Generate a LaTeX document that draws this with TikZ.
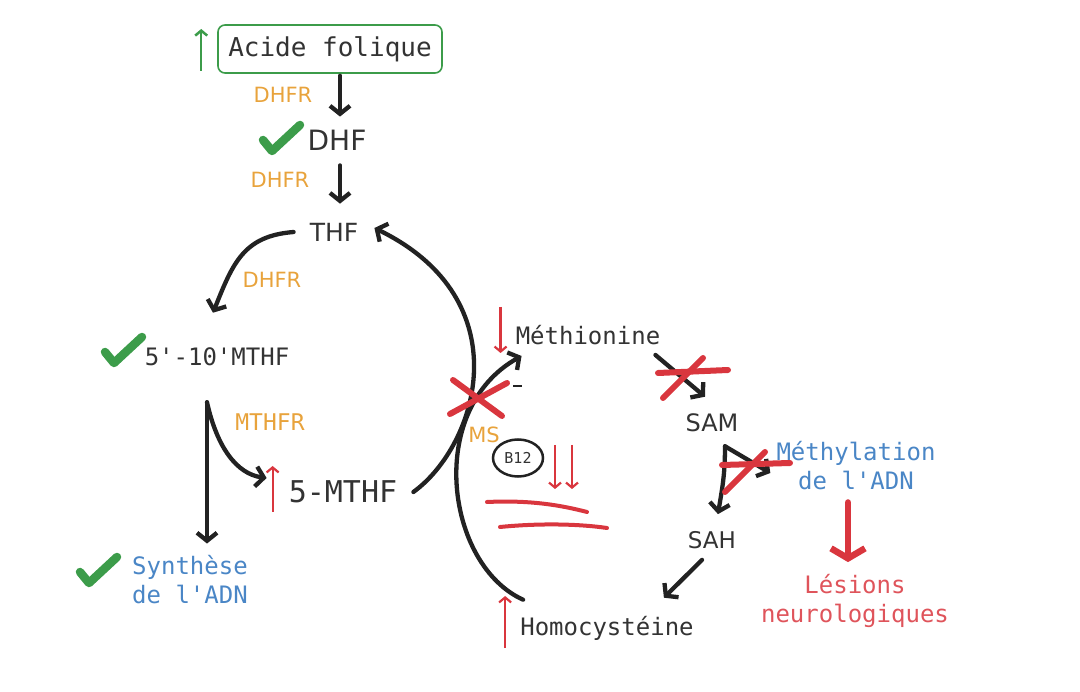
\documentclass[tikz,border=0pt]{standalone}
\usepackage{fontspec}
\setmainfont{DejaVu Sans}
\setsansfont{DejaVu Sans}
\setmonofont{DejaVu Sans Mono}
\usetikzlibrary{arrows.meta,shapes.geometric,positioning}
\definecolor{ink}{HTML}{222222}
\definecolor{txtgray}{HTML}{333333}
\definecolor{orng}{HTML}{E8A33C}
\definecolor{bleu}{HTML}{4A86C6}
\definecolor{rouge}{HTML}{D9363E}
\definecolor{vert}{HTML}{3C9C4A}

\begin{document}
\begin{tikzpicture}[x=1pt,y=-1pt,
  every node/.style={inner sep=0pt, text=txtgray},
  montxt/.style={font=\ttfamily\fontsize{24}{29}\selectfont},
  sanstxt/.style={font=\sffamily\fontsize{24}{28}\selectfont},
  enz/.style={font=\sffamily\fontsize{21}{25}\selectfont, text=orng},
  bluetxt/.style={montxt, text=bleu, align=center},
  blk/.style={draw=ink, line width=4.3pt, line cap=round, -{Straight Barb[length=8pt,width=20pt]}},
  redmark/.style={draw=rouge, line width=2.2pt, -{Straight Barb[length=5pt,width=12pt]}},
  redx/.style={draw=rouge, line width=6pt, line cap=round},
  check/.style={draw=vert, line width=8.5pt, line cap=round, line join=round}]

 \useasboundingbox (0,0) rectangle (1080,692);

 %folates
 \node[montxt, font=\ttfamily\fontsize{26}{30}\selectfont, draw=vert, line width=1.6pt, rounded corners=7pt, minimum width=224pt, minimum height=48pt] (acide) at (330,49) {Acide folique};
 \node[sanstxt, font=\sffamily\fontsize{28}{32}\selectfont] (dhf) at (337,140) {DHF};
 \node[sanstxt, font=\sffamily\fontsize{25}{29}\selectfont] (thf) at (334,232) {THF};
 \node[enz] (dhfra) at (283,95) {DHFR};
 \node[enz] (dhfrb) at (280,180) {DHFR};
 \node[enz] (dhfrc) at (272,280) {DHFR};
 \node[montxt] (mthfa) at (217,357) {5'-10'MTHF};
 \node[enz, font=\ttfamily\fontsize{23}{27}\selectfont] (mthfr) at (270,422) {MTHFR};
 \node[montxt, font=\ttfamily\fontsize{30}{34}\selectfont] (mthfb) at (343,492) {5-MTHF};
 \node[bluetxt] (synth) at (190,580) {Synthèse\\de l'ADN};

 %methionine cycle
 \node[montxt] (meth) at (588,335) {Méthionine};
 \node[sanstxt] (sam) at (712,423) {SAM};
 \node[sanstxt, font=\sffamily\fontsize{23}{27}\selectfont] (sah) at (712,540) {SAH};
 \node[montxt] (hcy) at (607,628) {Homocystéine};
 \node[bluetxt] (adn) at (856,466) {Méthylation\\de l'ADN};
 \node[montxt, text=rouge!85, align=center] (lesion) at (855,601) {Lésions\\neurologiques};
 \node[enz] (ms) at (484,435) {MS};
 \node[draw=ink, line width=2.5pt, ellipse, minimum width=50pt, minimum height=37pt,
       font=\ttfamily\fontsize{15}{18}\selectfont] (b12) at (518,458) {B12};

 %connectors
 \draw[blk, shorten <=2pt, shorten >=13pt] ([xshift=10pt]acide.south) -- ([xshift=3pt]dhf.north);
 \draw[blk, shorten <=15pt, shorten >=19pt] ([xshift=3pt]dhf.south) -- ([xshift=6pt]thf.north);
 \draw[blk] ([xshift=-16pt]thf.west) .. controls +(-50,4) and +(20,-50) .. ([xshift=-4pt,yshift=35pt]mthfa.north);
 \coordinate (fork) at ([xshift=-10pt,yshift=-36pt]mthfa.south);
 \draw[blk, shorten >=12pt] (fork) -- (fork |- synth.north);
 \draw[blk] (fork) .. controls +(10,45) and +(-30,-4) .. ([xshift=-22pt,yshift=14pt]mthfb.west);
 \draw[blk] ([xshift=16pt]mthfb.east) .. controls (478,445) and (522,300) .. ([xshift=16pt,yshift=4pt]thf.east);
 \draw[blk] ([xshift=3pt,yshift=16pt]hcy.north west) .. controls (446,565) and (425,410) .. ([xshift=6pt,yshift=-11pt]meth.south west);
 \draw[blk] ([xshift=-5pt,yshift=-10pt]meth.south east) -- ([xshift=-7pt,yshift=17pt]sam.north);
 \coordinate (samfork) at ([xshift=13pt,yshift=-14pt]sam.south);
 \draw[blk] (samfork) .. controls +(0,30) and +(4,-25) .. ([xshift=6pt,yshift=17pt]sah.north);
 \draw[blk] (samfork) -- ([xshift=-6pt,yshift=-7pt]adn.west);
 \draw[blk] ([xshift=-10pt,yshift=-11pt]sah.south) -- ([xshift=-30pt,yshift=18pt]hcy.north east);
 \draw[draw=rouge, line width=6.5pt, line cap=round, shorten <=12pt, shorten >=12pt,
       -{Straight Barb[length=10pt,width=34pt]}] ([xshift=-8pt]adn.south) -- ([xshift=-7pt]lesion.north);

 %markers
 \draw[draw=vert, line width=2.5pt, -{Straight Barb[length=5pt,width=12pt]}] ([xshift=-16pt,yshift=-22pt]acide.west) -- ++(0,-42);
 \draw[redmark] ([xshift=-16pt,yshift=-20pt]mthfb.west) -- ++(0,-46);
 \draw[redmark] ([xshift=-15pt,yshift=-20pt]hcy.west) -- ++(0,-52);
 \draw[redmark] ([xshift=-15pt,yshift=28pt]meth.west) -- ++(0,46);
 \foreach \dx in {37,54}
   \draw[redmark] ([xshift=\dx pt,yshift=13pt]b12.center) -- ++(0,44);
 \draw[ink, line width=2pt] (513,386) -- (522,386);

 %checks
 \foreach \cx/\cy in {281/137, 123/349, 98/569}
   \draw[check] (\cx-18,\cy+3) -- (\cx-9,\cy+14) -- (\cx+19,\cy-12);

 %crosses
 \foreach \ax/\ay/\bx/\by in {453/380/502/416, 450/414/507/383, 658/373/728/370, 663/398/703/358, 722/465/790/463, 725/492/765/452}
   \draw[redx] (\ax,\ay) -- (\bx,\by);
 \draw[redx, line width=4pt] (487,502) .. controls (530,500) and (560,505) .. (587,512);
 \draw[redx, line width=4pt] (500,527) .. controls (540,523) and (580,524) .. (607,528);

\end{tikzpicture}
\end{document}
